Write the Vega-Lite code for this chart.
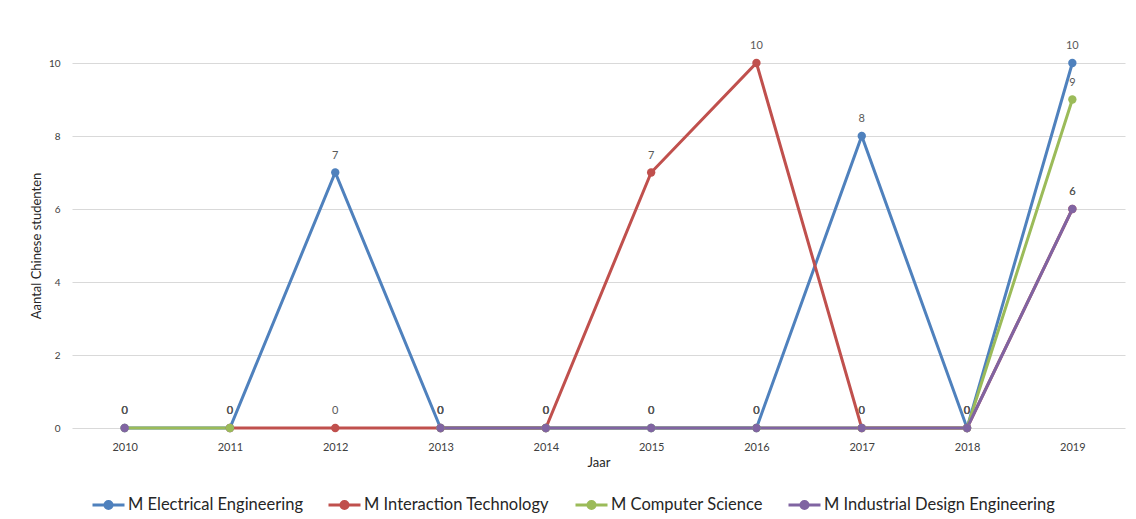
{
  "$schema": "https://vega.github.io/schema/vega-lite/v6.json",
  "autosize": {"type": "none"},
  "padding": {"left": 72, "top": 63, "right": 11, "bottom": 91},
  "width": 1053,
  "height": 365,
  "background": "white",
  "config": {
    "font": "Lato",
    "view": {"stroke": null}
  },
  "data": {
    "values": [
      {"jaar": "2010", "opleiding": "M Electrical Engineering", "aantal": 0},
      {"jaar": "2011", "opleiding": "M Electrical Engineering", "aantal": 0},
      {"jaar": "2012", "opleiding": "M Electrical Engineering", "aantal": 7},
      {"jaar": "2013", "opleiding": "M Electrical Engineering", "aantal": 0},
      {"jaar": "2014", "opleiding": "M Electrical Engineering", "aantal": 0},
      {"jaar": "2015", "opleiding": "M Electrical Engineering", "aantal": 0},
      {"jaar": "2016", "opleiding": "M Electrical Engineering", "aantal": 0},
      {"jaar": "2017", "opleiding": "M Electrical Engineering", "aantal": 8},
      {"jaar": "2018", "opleiding": "M Electrical Engineering", "aantal": 0},
      {"jaar": "2019", "opleiding": "M Electrical Engineering", "aantal": 10},
      {"jaar": "2010", "opleiding": "M Interaction Technology", "aantal": null},
      {"jaar": "2011", "opleiding": "M Interaction Technology", "aantal": 0},
      {"jaar": "2012", "opleiding": "M Interaction Technology", "aantal": 0},
      {"jaar": "2013", "opleiding": "M Interaction Technology", "aantal": 0},
      {"jaar": "2014", "opleiding": "M Interaction Technology", "aantal": 0},
      {"jaar": "2015", "opleiding": "M Interaction Technology", "aantal": 7},
      {"jaar": "2016", "opleiding": "M Interaction Technology", "aantal": 10},
      {"jaar": "2017", "opleiding": "M Interaction Technology", "aantal": 0},
      {"jaar": "2018", "opleiding": "M Interaction Technology", "aantal": 0},
      {"jaar": "2019", "opleiding": "M Interaction Technology", "aantal": 6},
      {"jaar": "2010", "opleiding": "M Computer Science", "aantal": 0},
      {"jaar": "2011", "opleiding": "M Computer Science", "aantal": 0},
      {"jaar": "2012", "opleiding": "M Computer Science", "aantal": null},
      {"jaar": "2013", "opleiding": "M Computer Science", "aantal": 0},
      {"jaar": "2014", "opleiding": "M Computer Science", "aantal": 0},
      {"jaar": "2015", "opleiding": "M Computer Science", "aantal": 0},
      {"jaar": "2016", "opleiding": "M Computer Science", "aantal": 0},
      {"jaar": "2017", "opleiding": "M Computer Science", "aantal": 0},
      {"jaar": "2018", "opleiding": "M Computer Science", "aantal": 0},
      {"jaar": "2019", "opleiding": "M Computer Science", "aantal": 9},
      {"jaar": "2010", "opleiding": "M Industrial Design Engineering", "aantal": 0},
      {"jaar": "2011", "opleiding": "M Industrial Design Engineering", "aantal": null},
      {"jaar": "2012", "opleiding": "M Industrial Design Engineering", "aantal": null},
      {"jaar": "2013", "opleiding": "M Industrial Design Engineering", "aantal": 0},
      {"jaar": "2014", "opleiding": "M Industrial Design Engineering", "aantal": 0},
      {"jaar": "2015", "opleiding": "M Industrial Design Engineering", "aantal": 0},
      {"jaar": "2016", "opleiding": "M Industrial Design Engineering", "aantal": 0},
      {"jaar": "2017", "opleiding": "M Industrial Design Engineering", "aantal": 0},
      {"jaar": "2018", "opleiding": "M Industrial Design Engineering", "aantal": 0},
      {"jaar": "2019", "opleiding": "M Industrial Design Engineering", "aantal": 6}
    ]
  },
  "encoding": {
    "x": {
      "field": "jaar",
      "type": "ordinal",
      "scale": {"type": "point", "padding": 0.5},
      "axis": {
        "title": "Jaar",
        "labelAngle": 0,
        "labelFontSize": 11,
        "labelColor": "#404040",
        "labelPadding": 13,
        "ticks": false,
        "domain": false,
        "titleFontSize": 13,
        "titleFontWeight": "normal",
        "titleColor": "#262626",
        "titlePadding": 4
      }
    },
    "y": {
      "field": "aantal",
      "type": "quantitative",
      "scale": {"domain": [0, 10], "nice": false},
      "axis": {
        "title": "Aantal Chinese studenten",
        "values": [0, 2, 4, 6, 8, 10],
        "labelFontSize": 10,
        "labelColor": "#404040",
        "labelPadding": 12,
        "ticks": false,
        "domain": false,
        "gridColor": "#d9d9d9",
        "gridWidth": 1,
        "titleFontSize": 13,
        "titleFontWeight": "normal",
        "titleColor": "#262626",
        "titlePadding": 5
      }
    },
    "color": {
      "field": "opleiding",
      "type": "nominal",
      "scale": {
        "domain": ["M Electrical Engineering", "M Interaction Technology", "M Computer Science", "M Industrial Design Engineering"],
        "range": ["#4f81bd", "#c0504d", "#9bbb59", "#8064a2"]
      },
      "legend": {
        "title": null,
        "orient": "none",
        "direction": "horizontal",
        "legendX": 19,
        "legendY": 424,
        "labelFontSize": 16.5,
        "labelLimit": 0,
        "labelColor": "#262626",
        "labelOffset": 2,
        "columnPadding": 19,
        "symbolType": "M-1,0H1M-0.22,0A0.22,0.22 0 1,1 0.22,0A0.22,0.22 0 1,1 -0.22,0Z",
        "symbolSize": 1024,
        "symbolStrokeWidth": 3
      }
    }
  },
  "layer": [
    {
      "mark": {"type": "line", "strokeWidth": 3, "invalid": "break-paths-filter-domains"}
    },
    {
      "mark": {"type": "point", "filled": true, "size": 70, "opacity": 1}
    },
    {
      "mark": {"type": "text", "dy": -17, "fontSize": 11, "color": "#595959", "baseline": "middle"},
      "encoding": {
        "text": {"field": "aantal", "type": "quantitative"},
        "color": {"value": "#595959"}
      }
    }
  ]
}
